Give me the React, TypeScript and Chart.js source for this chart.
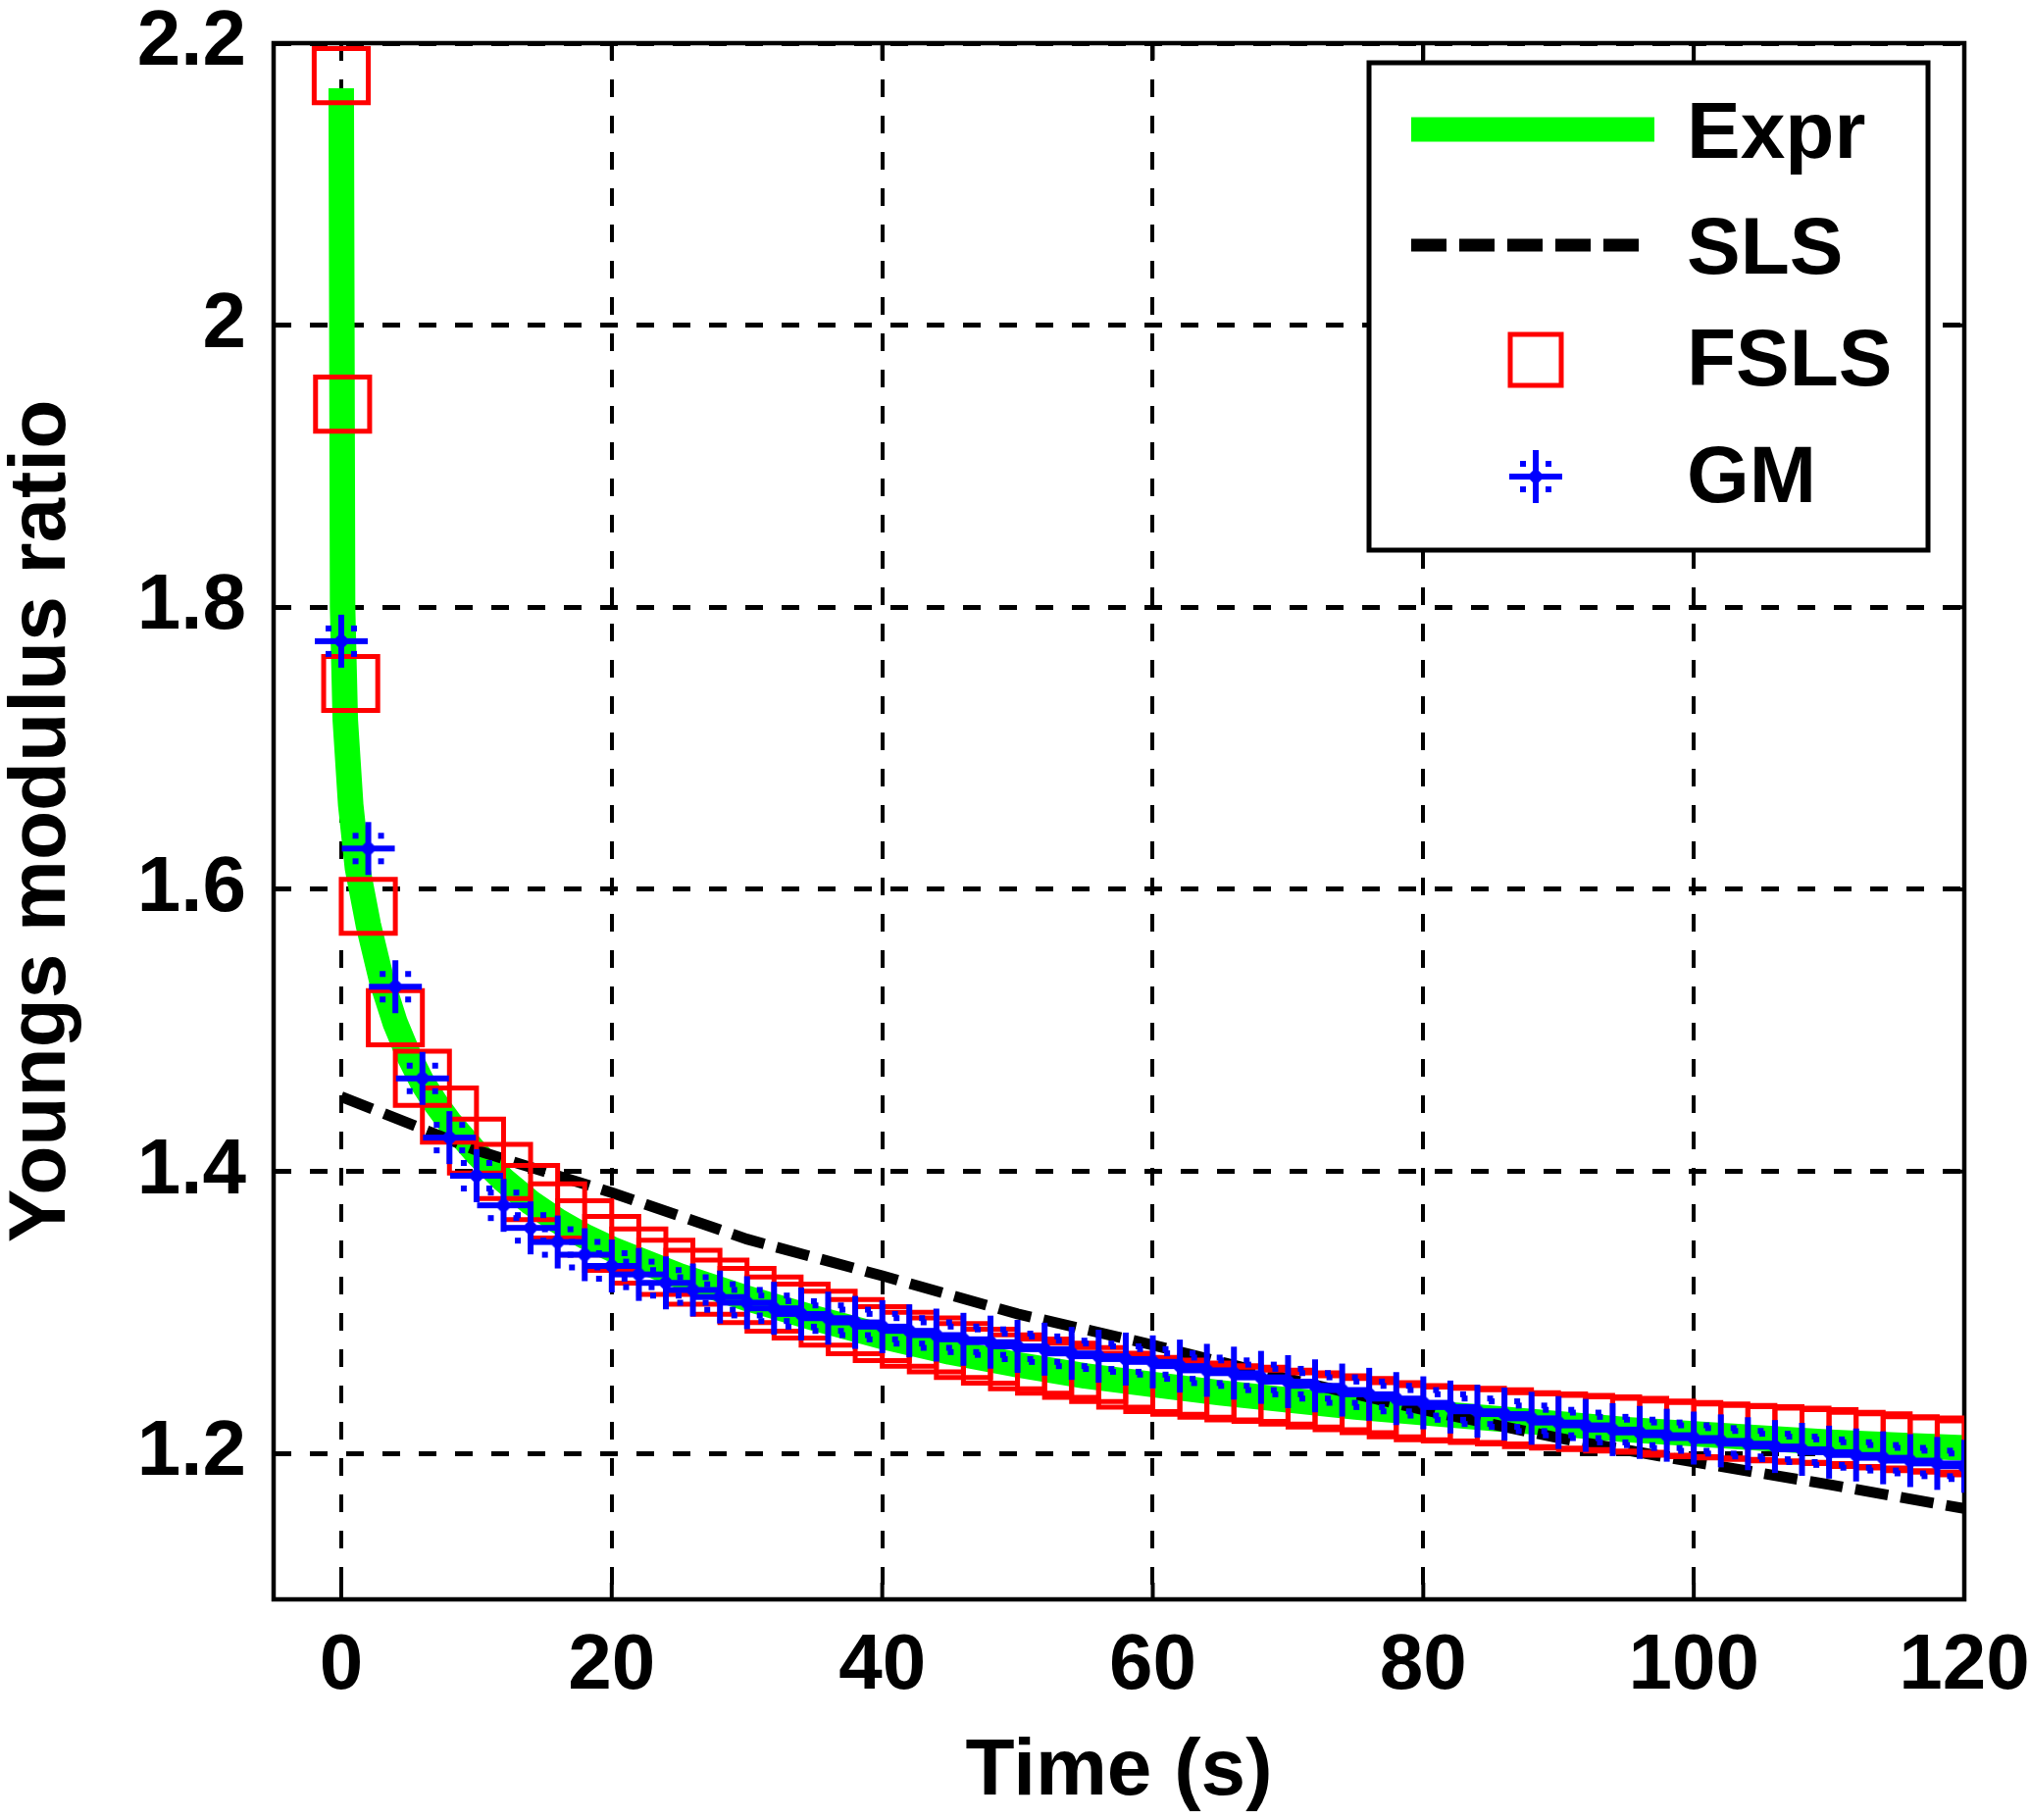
import React, { useEffect, useRef } from 'react';
import { Chart, registerables } from 'chart.js';

Chart.register(...registerables);

// ---- axis ticks ----
const xTicks = [0, 20, 40, 60, 80, 100, 120];
const yTicks = [1.2, 1.4, 1.6, 1.8, 2, 2.2];

// ---- series labels ----
const seriesLabels = ['Expr', 'SLS', 'FSLS', 'GM'];

// ---- Expr (experimental curve) ----
const exprTimes = [0, 0.1, 0.3, 0.7, 1.2, 2, 3, 4, 5, 6, 7, 8, 10, 12, 14, 16, 18, 20, 25, 30, 35, 40, 45, 50, 55, 60, 65, 70, 75, 80, 85, 90, 95, 100, 105, 110, 115, 120];
const exprValues = [2.168, 1.8, 1.72, 1.66, 1.615, 1.575, 1.535, 1.505, 1.482, 1.463, 1.448, 1.435, 1.413, 1.394, 1.378, 1.365, 1.354, 1.345, 1.326, 1.31, 1.296, 1.283, 1.272, 1.263, 1.255, 1.249, 1.243, 1.238, 1.233, 1.229, 1.225, 1.221, 1.217, 1.214, 1.211, 1.208, 1.206, 1.204];

// ---- SLS model ----
const slsTimes = [0, 10, 20, 30, 40, 50, 60, 70, 80, 90, 100, 110, 120];
const slsValues = [1.453, 1.415, 1.385, 1.352, 1.326, 1.299, 1.277, 1.253, 1.231, 1.211, 1.194, 1.178, 1.161];

// ---- FSLS model (markers) ----
const fslsTimes = [0, 0.1, 0.7, 2, 4, 6, 8, 10, 12, 14, 16, 18, 20, 22, 24, 26, 28, 30, 32, 34, 36, 38, 40, 42, 44, 46, 48, 50, 52, 54, 56, 58, 60, 62, 64, 66, 68, 70, 72, 74, 76, 78, 80, 82, 84, 86, 88, 90, 92, 94, 96, 98, 100, 102, 104, 106, 108, 110, 112, 114, 116, 118, 120];
const fslsValues = [2.177, 1.944, 1.746, 1.588, 1.509, 1.466, 1.44, 1.418, 1.4, 1.385, 1.372, 1.36, 1.349, 1.34, 1.332, 1.325, 1.318, 1.312, 1.306, 1.301, 1.296, 1.29, 1.285, 1.281, 1.277, 1.273, 1.269, 1.265, 1.262, 1.259, 1.256, 1.252, 1.249, 1.247, 1.245, 1.243, 1.242, 1.24, 1.238, 1.236, 1.234, 1.231, 1.229, 1.228, 1.227, 1.226, 1.224, 1.223, 1.222, 1.221, 1.22, 1.218, 1.217, 1.216, 1.215, 1.214, 1.213, 1.212, 1.21, 1.209, 1.207, 1.206, 1.204];

// ---- GM model (markers) ----
const gmTimes = [0, 2, 4, 6, 8, 10, 12, 14, 16, 18, 20, 22, 24, 26, 28, 30, 32, 34, 36, 38, 40, 42, 44, 46, 48, 50, 52, 54, 56, 58, 60, 62, 64, 66, 68, 70, 72, 74, 76, 78, 80, 82, 84, 86, 88, 90, 92, 94, 96, 98, 100, 102, 104, 106, 108, 110, 112, 114, 116, 118, 120];
const gmValues = [1.776, 1.629, 1.531, 1.466, 1.424, 1.397, 1.376, 1.36, 1.35, 1.341, 1.333, 1.327, 1.321, 1.316, 1.311, 1.307, 1.303, 1.299, 1.296, 1.293, 1.29, 1.287, 1.284, 1.281, 1.279, 1.276, 1.274, 1.271, 1.269, 1.267, 1.265, 1.262, 1.259, 1.257, 1.254, 1.251, 1.248, 1.245, 1.242, 1.239, 1.236, 1.233, 1.23, 1.228, 1.225, 1.222, 1.22, 1.217, 1.215, 1.213, 1.211, 1.209, 1.207, 1.205, 1.203, 1.201, 1.199, 1.197, 1.195, 1.193, 1.191];

const FONT = '"Liberation Sans", Arial, Helvetica, sans-serif';
const GREEN = '#00ff00';
const RED = '#ff0000';
const BLUE = '#0000ff';

function toPoints(xs: number[], ys: number[]) {
  return xs.map((x, i) => ({ x, y: ys[i] }));
}

function makeStarMarker(color: string): HTMLCanvasElement {
  const c = document.createElement('canvas');
  c.width = 60;
  c.height = 60;
  const g = c.getContext('2d')!;
  g.fillStyle = color;
  g.fillRect(3, 27, 54, 6);
  g.fillRect(27, 3, 6, 54);
  g.beginPath();
  g.moveTo(30, 21);
  g.lineTo(39, 30);
  g.lineTo(30, 39);
  g.lineTo(21, 30);
  g.closePath();
  g.fill();
  const d = 13;
  [[-d, -d], [d, -d], [-d, d], [d, d]].forEach(([dx, dy]) => g.fillRect(30 + dx - 3, 30 + dy - 3, 6, 6));
  return c;
}

export default function App() {
  const ref = useRef<HTMLCanvasElement>(null);

  useEffect(() => {
    const canvas = ref.current!;
    const star = makeStarMarker(BLUE);

    const framePlugin = {
      id: 'matlabFrame',
      beforeDatasetsDraw(chart: any) {
        const { ctx, chartArea } = chart;
        const { left, right, top, bottom } = chartArea;
        const xs = chart.scales.x;
        const ys = chart.scales.y;
        ctx.save();
        ctx.strokeStyle = '#000';
        ctx.lineWidth = 4;
        const tl = 17;
        ctx.beginPath();
        xTicks.forEach((v) => {
          const px = xs.getPixelForValue(v);
          ctx.moveTo(px, bottom);
          ctx.lineTo(px, bottom - tl);
          ctx.moveTo(px, top);
          ctx.lineTo(px, top + tl);
        });
        yTicks.forEach((v) => {
          const py = ys.getPixelForValue(v);
          ctx.moveTo(left, py);
          ctx.lineTo(left + tl, py);
          ctx.moveTo(right, py);
          ctx.lineTo(right - tl, py);
        });
        ctx.stroke();
        ctx.lineWidth = 4.5;
        ctx.strokeRect(left, top, right - left, bottom - top);
        ctx.restore();
      },
    };

    const legendPlugin = {
      id: 'matlabLegend',
      afterDatasetsDraw(chart: any) {
        const { ctx } = chart;
        const ds = chart.data.datasets;
        const bx = 1396, by = 64, bw = 570, bh = 497;
        ctx.save();
        ctx.fillStyle = '#fff';
        ctx.fillRect(bx, by, bw, bh);
        ctx.strokeStyle = '#000';
        ctx.lineWidth = 5;
        ctx.strokeRect(bx, by, bw, bh);

        const rowY = [132, 250, 367, 486];
        const textY = [138, 256, 370, 489];
        const sx0 = 1439, sx1 = 1687, mx = 1566, tx = 1720;

        // Expr
        ctx.save();
        ctx.strokeStyle = ds[0].borderColor;
        ctx.lineWidth = 25;
        ctx.lineCap = 'butt';
        ctx.beginPath();
        ctx.moveTo(sx0, rowY[0]);
        ctx.lineTo(sx1, rowY[0]);
        ctx.stroke();
        ctx.restore();

        // SLS
        ctx.save();
        ctx.strokeStyle = ds[1].borderColor;
        ctx.lineWidth = 13;
        ctx.setLineDash([36, 13]);
        ctx.beginPath();
        ctx.moveTo(sx0, rowY[1]);
        ctx.lineTo(1676, rowY[1]);
        ctx.stroke();
        ctx.restore();

        // FSLS
        ctx.save();
        ctx.strokeStyle = ds[2].pointBorderColor;
        ctx.lineWidth = 5;
        const s = 52;
        ctx.strokeRect(mx - s / 2, rowY[2] - s / 2, s, s);
        ctx.restore();

        // GM
        ctx.drawImage(star, mx - star.width / 2, rowY[3] - star.height / 2);

        ctx.fillStyle = '#000';
        ctx.font = `bold 82px ${FONT}`;
        ctx.textAlign = 'left';
        ctx.textBaseline = 'middle';
        ds.forEach((d: any, i: number) => ctx.fillText(d.label, tx, textY[i]));
        ctx.restore();
      },
    };

    const chart = new Chart(canvas, {
      type: 'line',
      data: {
        datasets: [
          {
            label: seriesLabels[0],
            data: toPoints(exprTimes, exprValues),
            borderColor: GREEN,
            borderWidth: 26,
            borderCapStyle: 'butt',
            borderJoinStyle: 'round',
            pointRadius: 0,
            fill: false,
            tension: 0,
            order: 3,
          },
          {
            label: seriesLabels[1],
            data: toPoints(slsTimes, slsValues),
            borderColor: '#000000',
            borderWidth: 11,
            borderDash: [34, 13],
            borderCapStyle: 'butt',
            pointRadius: 0,
            fill: false,
            tension: 0,
            order: 2,
          },
          {
            label: seriesLabels[2],
            data: toPoints(fslsTimes, fslsValues),
            showLine: false,
            pointStyle: 'rect',
            pointRadius: 39,
            pointBorderWidth: 5,
            pointBorderColor: RED,
            pointBackgroundColor: 'rgba(0,0,0,0)',
            borderColor: RED,
            order: 1,
          },
          {
            label: seriesLabels[3],
            data: toPoints(gmTimes, gmValues),
            showLine: false,
            pointStyle: star as any,
            pointRadius: 27,
            borderColor: BLUE,
            pointBorderColor: BLUE,
            pointBackgroundColor: BLUE,
            order: 0,
          },
        ] as any,
      },
      options: {
        responsive: false,
        maintainAspectRatio: false,
        devicePixelRatio: 1,
        animation: false,
        events: [],
        layout: { padding: { left: 0, top: 32, right: 67, bottom: 0 } },
        plugins: {
          legend: { display: false },
          tooltip: { enabled: false },
          title: { display: false },
        },
        scales: {
          x: {
            type: 'linear',
            min: -5,
            max: 120,
            afterBuildTicks: (scale: any) => {
              scale.ticks = xTicks.map((v) => ({ value: v }));
            },
            afterFit: (scale: any) => {
              scale.height = 225;
              scale.paddingLeft = 0;
              scale.paddingRight = 0;
              scale.paddingTop = 0;
              scale.paddingBottom = 0;
            },
            ticks: {
              autoSkip: false,
              maxRotation: 0,
              minRotation: 0,
              padding: 29,
              color: '#000',
              font: { family: FONT, size: 80, weight: 'bold', lineHeight: 1 },
              callback: (v: any) => String(v),
            },
            grid: {
              display: true,
              color: '#000',
              lineWidth: 4,
              drawTicks: false,
            },
            border: { display: false, dash: [18, 19] },
            title: {
              display: true,
              text: 'Time (s)',
              color: '#000',
              font: { family: FONT, size: 82, weight: 'bold', lineHeight: 1 },
              padding: { top: 0, bottom: 8 },
            },
          },
          y: {
            type: 'linear',
            min: 1.0966,
            max: 2.2,
            afterBuildTicks: (scale: any) => {
              scale.ticks = yTicks.map((v) => ({ value: v }));
            },
            afterFit: (scale: any) => {
              scale.width = 279;
              scale.paddingLeft = 0;
              scale.paddingRight = 0;
              scale.paddingTop = 0;
              scale.paddingBottom = 0;
            },
            ticks: {
              autoSkip: false,
              padding: 28,
              color: '#000',
              font: { family: FONT, size: 80, weight: 'bold', lineHeight: 1 },
              callback: (v: any) => String(v),
            },
            grid: {
              display: true,
              color: '#000',
              lineWidth: 5,
              drawTicks: false,
            },
            border: { display: false, dash: [18, 19] },
            title: {
              display: true,
              text: 'Youngs modulus ratio',
              color: '#000',
              font: { family: FONT, size: 82, weight: 'bold', lineHeight: 1 },
              padding: { top: 2, bottom: 0 },
            },
          },
        },
      } as any,
      plugins: [framePlugin, legendPlugin],
    });

    return () => chart.destroy();
  }, []);

  return (
    <div style={{ position: 'fixed', left: 0, top: 0, width: 2070, height: 1856, background: '#fff' }}>
      <canvas ref={ref} width={2070} height={1856} style={{ display: 'block', width: 2070, height: 1856 }} />
    </div>
  );
}
